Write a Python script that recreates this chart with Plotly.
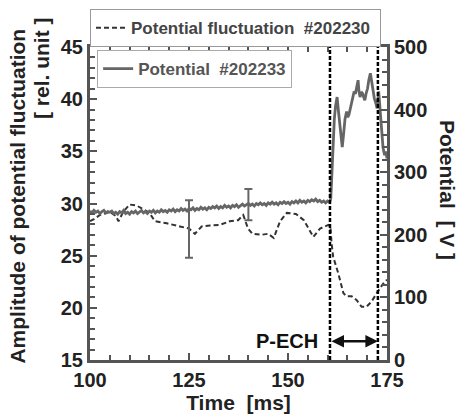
import plotly.graph_objects as go

# ---------------- data ----------------
# Amplitude of potential fluctuation (#202230), left axis [rel. unit]
fluct_t = [100, 101, 102.5, 105, 106.5, 107.2, 108.4, 110, 111.8, 113.5, 115, 116.4,
           119.4, 122.7, 125, 126.5, 128.2, 130.3, 132.8, 135.3, 137.4, 138.7, 139.9,
           141, 143.3, 145, 146.4, 148, 149.7, 152, 154, 156.4, 158.1, 160.2, 160.7,
           161, 161.4, 162.7, 164, 164.8, 166.1, 167.3, 168.6, 169.8, 171.1, 172.4,
           174, 175]
fluct_v = [28.3, 28.5, 28.9, 29.2, 28.8, 28.3, 29.2, 29.9, 29.8, 29.4, 29.1, 28.3,
           28.1, 27.8, 27.6, 27.1, 27.8, 27.9, 27.95, 28.3, 28.4, 28.9, 27.6,
           27.1, 27.0, 27.1, 26.7, 28.3, 29.1, 29.0, 28.4, 26.8, 27.6, 27.95, 27.8,
           26.2, 24.9, 23.3, 21.4, 21.1, 21.1, 20.75, 20.1, 20.1, 20.6, 21.4,
           22.3, 22.7]

# Potential (#202233), right axis [V]; before P-ECH sampled every 0.5 ms from 100 ms
pot_start = 100.0
pot_step = 0.5
pot_pre_v = [238, 235, 239, 236, 238, 234, 237, 239, 235, 237,
             236, 238, 234, 236, 233, 237, 235, 239, 234, 236,
             233, 237, 235, 238, 234, 236, 239, 235, 237, 234,
             238, 236, 239, 235, 238, 236, 240, 237, 239, 236,
             240, 238, 241, 237, 240, 238, 242, 239, 241, 238,
             242, 240, 243, 239, 242, 240, 244, 241, 243, 240,
             244, 242, 245, 243, 246, 242, 245, 243, 247, 244,
             246, 243, 247, 245, 248, 244, 247, 249, 246, 248,
             250, 247, 249, 246, 250, 248, 251, 248, 250, 247,
             251, 249, 252, 249, 251, 248, 252, 250, 253, 250,
             252, 249, 253, 251, 254, 251, 255, 252, 254, 251,
             255, 253, 256, 254, 257, 253, 255, 252, 254, 251,
             254, 252]
pot_post_t = [160.8, 161.1, 161.4, 161.7, 162.0, 162.4, 162.7, 163.1, 163.4, 163.7,
              164.1, 164.4, 164.8, 165.1, 165.4, 165.7, 166.0, 166.3, 166.7, 167.0,
              167.3, 167.7, 167.9, 168.2, 168.5, 168.8, 169.1, 169.4, 169.7, 170.1,
              170.4, 170.8, 171.0, 171.2, 171.5, 171.8, 172.2, 172.5, 172.9, 173.2,
              173.4, 173.7, 174.0, 174.4, 174.7, 175.0]
pot_post_v = [258, 300, 350, 385, 405, 420, 400, 375, 350, 340,
              365, 385, 397, 388, 392, 400, 407, 415, 429, 425,
              437, 447, 430, 420, 428, 426, 420, 415, 425, 434,
              447, 458, 450, 442, 430, 418, 410, 402, 429, 405,
              381, 360, 339, 327, 333, 322]

# error bars (left axis)
err_t = [125, 140]
err_v = [27.55, 29.9]
err_d = [2.75, 1.5]

# P-ECH window [ms]
pech_window = [160.6, 172.7]
pech_label_y = 16.8

x_ticks = [100, 125, 150, 175]
legend_fluct = "Potential fluctuation\u00a0\u00a0#202230\u00a0"
legend_pot = "Potential\u00a0\u00a0#202233"

# ---------------------------------------------------------------
pot_t = [pot_start + pot_step * i for i in range(len(pot_pre_v))] + pot_post_t
pot_v = pot_pre_v + pot_post_v

FONT = "Liberation Sans, Arial, sans-serif"
AX = "#555555"

fig = go.Figure()
fig.add_trace(go.Scatter(x=pot_t, y=pot_v, yaxis="y2", mode="lines",
                         line=dict(color="#666666", width=2.8),
                         name=legend_pot, legend="legend2"))
fig.add_trace(go.Scatter(x=fluct_t, y=fluct_v, mode="lines",
                         line=dict(color="#333333", width=2, dash="5px,3px"),
                         name=legend_fluct, legend="legend"))
fig.add_trace(go.Scatter(x=err_t, y=err_v, mode="markers",
                         marker=dict(size=1, color="rgba(0,0,0,0)"),
                         error_y=dict(type="data", array=err_d, visible=True,
                                      color="#666666", thickness=2, width=4),
                         showlegend=False, hoverinfo="skip"))

for xv in pech_window:
    fig.add_shape(type="line", xref="x", yref="paper", x0=xv, x1=xv, y0=0, y1=1,
                  line=dict(color="black", width=2.5, dash="4px,2px"))

tickfont = dict(family=FONT, size=20, color="#222222", weight="bold")
fig.update_layout(
    width=460, height=416,
    margin=dict(l=90, r=73, t=47, b=56, autoexpand=False),
    paper_bgcolor="white", plot_bgcolor="white",
    font=dict(family=FONT, weight="bold"),
    xaxis=dict(range=[100, 175], tickvals=x_ticks, ticks="inside", ticklen=7,
               tickwidth=2, tickcolor=AX, showline=True, linewidth=3, linecolor=AX,
               mirror="ticks", showgrid=False, zeroline=False, tickfont=tickfont,
               automargin=False,
               minor=dict(dtick=5, ticks="inside", ticklen=5, tickwidth=1.5, tickcolor=AX),
               title=dict(text="Time\u00a0\u00a0[ms]", standoff=6,
                          font=dict(family=FONT, size=21, color="#222222", weight="bold"))),
    yaxis=dict(range=[15, 45], dtick=5, tick0=15, ticks="inside", ticklen=7, tickwidth=2,
               tickcolor=AX, showline=True, linewidth=3, linecolor=AX, showgrid=False,
               zeroline=False, tickfont=tickfont, automargin=False,
               minor=dict(dtick=1, ticks="inside", ticklen=5, tickwidth=1.5, tickcolor=AX)),
    yaxis2=dict(range=[0, 500], dtick=100, overlaying="y", side="right", ticks="inside",
                ticklen=7, tickwidth=2, tickcolor=AX, showline=True, linewidth=3,
                linecolor=AX, showgrid=False, zeroline=False, tickfont=tickfont,
                automargin=False,
                minor=dict(dtick=20, ticks="inside", ticklen=5, tickwidth=1.5, tickcolor=AX)),
    legend=dict(x=0, xanchor="left", y=1.121, yanchor="top", bgcolor="white",
                bordercolor="#999999", borderwidth=1,
                font=dict(family=FONT, size=17, color="#444444", weight="bold")),
    legend2=dict(x=0.024, xanchor="left", y=0.99, yanchor="top", bgcolor="white",
                 bordercolor="#aaaaaa", borderwidth=1,
                 font=dict(family=FONT, size=17, color="#555555", weight="bold")),
    showlegend=True,
)

title_font = dict(family=FONT, size=21, color="#222222", weight="bold")
fig.add_annotation(text="Amplitude of potential fluctuation", textangle=-90,
                   xref="paper", yref="paper", x=-0.2424, y=0.522,
                   xanchor="center", yanchor="middle", showarrow=False, font=title_font)
fig.add_annotation(text="[ rel. unit ]", textangle=-90,
                   xref="paper", yref="paper", x=-0.1616, y=0.933,
                   xanchor="center", yanchor="middle", showarrow=False, font=title_font)
fig.add_annotation(text="Potential\u00a0\u00a0[ V ]", textangle=90,
                   xref="paper", yref="paper", x=1.2054, y=0.543,
                   xanchor="center", yanchor="middle", showarrow=False, font=title_font)
fig.add_annotation(text="P-ECH", xref="x", yref="y", x=158.1, y=pech_label_y,
                   xanchor="right", yanchor="middle", showarrow=False,
                   font=dict(family=FONT, size=20, color="#111111", weight="bold"))
fig.add_annotation(text="", xref="x", yref="y", x=pech_window[1], y=pech_label_y,
                   axref="x", ayref="y", ax=pech_window[0], ay=pech_label_y,
                   showarrow=True, arrowside="end+start", arrowhead=2, arrowsize=1,
                   arrowwidth=2.5, arrowcolor="#111111", standoff=0, startstandoff=0)

fig.write_html("out.html", config={"displayModeBar": False},
               post_script="document.body.style.margin='0px';document.body.style.overflow='hidden';")
